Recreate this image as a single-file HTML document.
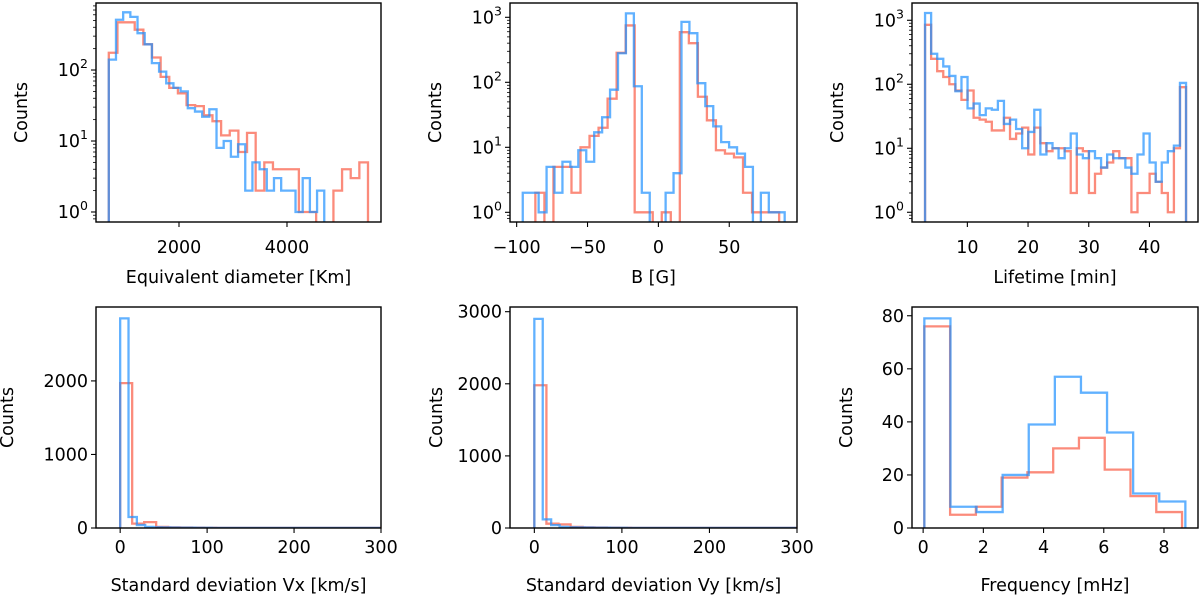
<!DOCTYPE html>
<html><head><meta charset="utf-8">
<style>
html,body{margin:0;padding:0;background:#fff;}
svg{display:block;font-family:"DejaVu Sans","Liberation Sans",sans-serif;}
</style></head>
<body>
<svg id="fig" width="1200" height="595" viewBox="0 0 1200 595" xmlns="http://www.w3.org/2000/svg"></svg>
<script>
// ---- data ----
const diamBlueStart = 700, diamBlueWidth = 133;
const diamBlue = [140,510,650,560,330,230,125,95,65,56,50,29,26,22,28,8,10,6,9,2,5,4,2,3,2,2,1,3,1,2];
const diamRedStart = 700, diamRedWidth = 160;
const diamRed = [175,470,470,370,230,150,80,56,47,32,31,23,19,12,14,7,13,2,5,4,4,4,1,1,0,0,2,4,3,5];

const bBlueStart = -95.7, bBlueWidth = 5.6;
const bBlue = [2,2,1,5,2,6,5,9,6,17,29,77,280,1150,87,2,0,0,2,4,850,570,97,43,21,12,10,8,5,0,2,1,1];
const bRedStart = -86.8, bRedWidth = 6.37;
const bRed = [2,0,5,5,2,10,15,20,56,285,750,1,1,0,1,0,590,400,60,26,9,8,7,2,1,1,1];

const lifeBlueStart = 3.03, lifeBlueWidth = 1.0;
const lifeBlue = [1300,300,250,190,135,78,130,42,50,33,42,40,55,24,28,20,10,18,40,8,12,10,7,10,17,8,7,9,7,5,8,7,7,5,4,8,17,6,3,6,9,11,105];
const lifeRedStart = 3.03, lifeRedWidth = 1.0;
const lifeRed = [850,250,160,130,100,80,57,80,30,28,26,19,19,30,14,17,21,8,21,12,9,10,10,9,2,10,9,2,4,5,6,9,7,7,1,2,2,4,3,2,1,10,90];

const vxBlueStart = 0, vxBlueWidth = 9.6;
const vxBlue = [2850,150,40,15,10,8,6,5,4,3,3,2,2,2,1,1,1,1,1,1,1,1,1,1,1,1,1,1,1,1,1];
const vxRedStart = 0, vxRedWidth = 13.8;
const vxRed = [1970,60,80,15,8,6,4,3,2,2,2,1,1,1,1,1,1,1,1,1,1,1];

const vyBlueStart = 0, vyBlueWidth = 9.6;
const vyBlue = [2900,120,40,15,10,8,6,5,4,3,3,2,2,2,1,1,1,1,1,1,1,1,1,1,1,1,1,1,1,1,1];
const vyRedStart = 0, vyRedWidth = 13.8;
const vyRed = [1980,60,50,15,8,6,4,3,2,2,2,1,1,1,1,1,1,1,1,1,1,1];

const freqBlueStart = 0.04, freqBlueWidth = 0.867;
const freqBlue = [79,8,6,20,39,57,51,36,13,10];
const freqRedStart = 0.04, freqRedWidth = 0.856;
const freqRed = [76,5,8,19,21,30,34,22,12,6];

const diamTicks = [2000,4000];
const bTicks = [-100,-50,0,50];
const bTickLabels = ["\u2212100","\u221250","0","50"];
const lifeTicks = [10,20,30,40];
const vTicks = [0,100,200,300];
const vxYTicks = [0,1000,2000];
const vyYTicks = [0,1000,2000,3000];
const freqTicks = [0,2,4,6,8];
const freqYTicks = [0,20,40,60,80];

// ---- rendering ----
const NS = "http://www.w3.org/2000/svg";
const svg = document.getElementById('fig');
function mk(tag, attrs, parent){
  const e = document.createElementNS(NS, tag);
  for (const k in attrs) e.setAttribute(k, attrs[k]);
  (parent||svg).appendChild(e);
  return e;
}
const RED = "rgba(250,110,90,0.8)", BLUE = "rgba(30,144,255,0.7)";
const FS = 17.5;

const panels = [
 {id:'diameter', x0:96,x1:381,y0:3,y1:222, xmin:463,xmax:5741, log:true, ymin:Math.pow(10,-0.141), ymax:Math.pow(10,2.944),
  xt:diamTicks, xtl:diamTicks.map(String), yt:[1,10,100], xl:"Equivalent diameter [Km]", ylx:22, xly:283, txy:253,
  series:[[diamRedStart,diamRedWidth,diamRed,RED],[diamBlueStart,diamBlueWidth,diamBlue,BLUE]]},
 {id:'field', x0:510,x1:797,y0:3,y1:222, xmin:-104.7,xmax:97.8, log:true, ymin:Math.pow(10,-0.149), ymax:Math.pow(10,3.22),
  xt:bTicks, xtl:bTickLabels, yt:[1,10,100,1000], xl:"B [G]", ylx:436, xly:283, txy:253,
  series:[[bRedStart,bRedWidth,bRed,RED],[bBlueStart,bBlueWidth,bBlue,BLUE]]},
 {id:'lifetime', x0:912,x1:1198,y0:3,y1:222, xmin:0.88,xmax:48.0, log:true, ymin:Math.pow(10,-0.152), ymax:Math.pow(10,3.27),
  xt:lifeTicks, xtl:lifeTicks.map(String), yt:[1,10,100,1000], xl:"Lifetime [min]", ylx:838, xly:283, txy:253,
  series:[[lifeRedStart,lifeRedWidth,lifeRed,RED],[lifeBlueStart,lifeBlueWidth,lifeBlue,BLUE]]},
 {id:'vx', x0:96,x1:381,y0:307,y1:528, xmin:-27.8,xmax:300, log:false, ymin:0, ymax:3005,
  xt:vTicks, xtl:vTicks.map(String), yt:vxYTicks, xl:"Standard deviation Vx [km/s]", ylx:8, xly:591, txy:553,
  series:[[vxRedStart,vxRedWidth,vxRed,RED],[vxBlueStart,vxBlueWidth,vxBlue,BLUE]]},
 {id:'vy', x0:510,x1:797,y0:307,y1:528, xmin:-27.8,xmax:300, log:false, ymin:0, ymax:3065,
  xt:vTicks, xtl:vTicks.map(String), yt:vyYTicks, xl:"Standard deviation Vy [km/s]", ylx:437, xly:591, txy:553,
  series:[[vyRedStart,vyRedWidth,vyRed,RED],[vyBlueStart,vyBlueWidth,vyBlue,BLUE]]},
 {id:'frequency', x0:912,x1:1198,y0:307,y1:528, xmin:-0.37,xmax:9.13, log:false, ymin:0, ymax:83.3,
  xt:freqTicks, xtl:freqTicks.map(String), yt:freqYTicks, xl:"Frequency [mHz]", ylx:847, xly:591, txy:553,
  series:[[freqRedStart,freqRedWidth,freqRed,RED],[freqBlueStart,freqBlueWidth,freqBlue,BLUE]]},
];

panels.forEach(p=>{
  const g = mk('g', {});
  
  
  const sx = v => p.x0 + (v - p.xmin) / (p.xmax - p.xmin) * (p.x1 - p.x0);
  const sy = v => {
    if (p.log) {
      if (v <= 0) return p.y1 + 30;
      const l = Math.log10(v), a = Math.log10(p.ymin), b = Math.log10(p.ymax);
      return p.y1 - (l - a) / (b - a) * (p.y1 - p.y0);
    }
    return p.y1 - (v - p.ymin) / (p.ymax - p.ymin) * (p.y1 - p.y0);
  };
  const cp = mk('clipPath', {id:'clip-'+p.id}, g);
  mk('rect', {x:p.x0, y:p.y0, width:p.x1-p.x0, height:p.y1-p.y0}, cp);
  const sg = mk('g', {'clip-path':'url(#clip-'+p.id+')'}, g);
  p.series.forEach((s, si)=>{
    const [start, w, vals, col] = s;
    const base = p.log ? p.y1 + 30 : sy(0);
    let d = 'M' + sx(start).toFixed(2) + ',' + base.toFixed(2);
    vals.forEach((v, i)=>{
      const yy = sy(v).toFixed(2);
      d += ' L' + sx(start + i*w).toFixed(2) + ',' + yy + ' L' + sx(start + (i+1)*w).toFixed(2) + ',' + yy;
    });
    d += ' L' + sx(start + vals.length*w).toFixed(2) + ',' + base.toFixed(2);
    const path = mk('path', {d:d, fill:'none', stroke:col, 'stroke-width':2.3, 'stroke-linejoin':'miter'}, sg);
    
    
  });
  mk('rect', {x:p.x0, y:p.y0, width:p.x1-p.x0, height:p.y1-p.y0, fill:'none', stroke:'#000', 'stroke-width':1.4}, g);
  p.xt.forEach((t, i)=>{
    const x = sx(t);
    mk('line', {x1:x, y1:p.y1, x2:x, y2:p.y1+5, stroke:'#000', 'stroke-width':1.1}, g);
    const tx = mk('text', {x:x, y:p.txy, 'font-size':FS, 'text-anchor':'middle', fill:'#000'}, g);
    tx.textContent = p.xtl[i];
    
    
  });
  p.yt.forEach(t=>{
    const y = sy(t);
    mk('line', {x1:p.x0-5, y1:y, x2:p.x0, y2:y, stroke:'#000', 'stroke-width':1.1}, g);
    const tx = mk('text', {x:p.x0-8, y:y+6, 'font-size':FS, 'text-anchor':'end', fill:'#000'}, g);
    
    
    if (p.log) {
      const e = Math.round(Math.log10(t));
      tx.textContent = '10';
      const sup = mk('tspan', {dy:-8, 'font-size':12.5}, tx);
      sup.textContent = String(e);
    } else tx.textContent = String(t);
  });
  if (p.log) {
    const a = Math.floor(Math.log10(p.ymin)), b = Math.ceil(Math.log10(p.ymax));
    for (let e = a; e <= b; e++) for (let m = 2; m <= 9; m++) {
      const v = m * Math.pow(10, e);
      if (v < p.ymin || v > p.ymax) continue;
      const y = sy(v);
      mk('line', {x1:p.x0-3, y1:y, x2:p.x0, y2:y, stroke:'#000', 'stroke-width':0.8}, g);
    }
  }
  const xl = mk('text', {x:(p.x0+p.x1)/2, y:p.xly, 'font-size':FS, 'text-anchor':'middle', fill:'#000'}, g);
  xl.textContent = p.xl;
  
  
  const yc = (p.y0+p.y1)/2;
  const yl = mk('text', {x:p.ylx, y:yc, 'font-size':FS, 'text-anchor':'middle', fill:'#000', 'dominant-baseline':'central', transform:'rotate(-90 '+p.ylx+' '+yc+')'}, g);
  yl.textContent = 'Counts';
  
  
});
</script>
</body></html>
